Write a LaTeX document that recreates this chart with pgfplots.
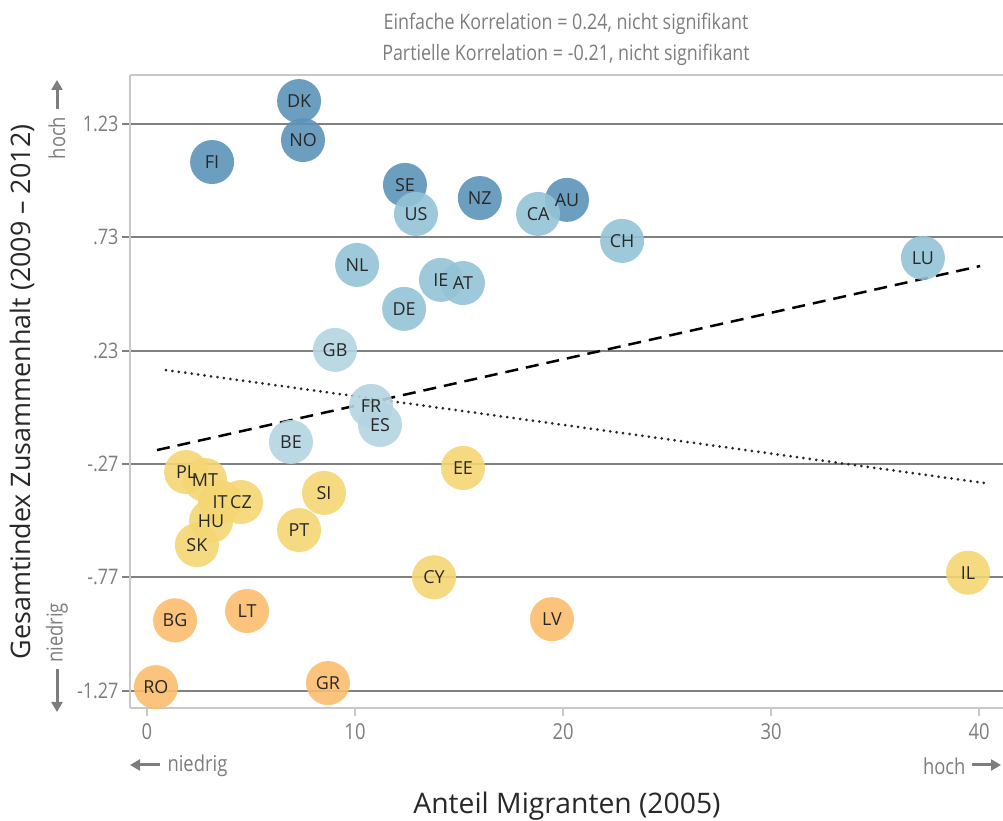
\documentclass[border=0pt]{standalone}
\usepackage{fontspec}
\setmainfont{Open Sans}
\newfontfamily\narrowfont{Open Sans}[FakeStretch=0.84]
\usepackage{pgfplots}
\usepackage{pgfplotstable}
\pgfplotsset{compat=1.18}
\usetikzlibrary{arrows.meta}
\definecolor{dblue}{RGB}{92,148,184}
\definecolor{mblue}{RGB}{148,195,214}
\definecolor{lblue}{RGB}{180,212,226}
\definecolor{cyell}{RGB}{245,214,115}
\definecolor{corange}{RGB}{251,188,110}
\definecolor{gridc}{RGB}{128,128,128}
\definecolor{framec}{RGB}{200,200,200}
\definecolor{txtgray}{RGB}{125,125,125}
\definecolor{lab}{RGB}{40,40,40}

\pgfplotstableread{
x y lab
7.31 1.331 DK
7.50 1.159 NO
3.13 1.062 FI
12.40 0.961 SE
16.00 0.903 NZ
20.19 0.895 AU
}\darkgrp
\pgfplotstableread{
x y lab
12.93 0.833 US
18.80 0.833 CA
22.84 0.714 CH
10.10 0.608 NL
14.13 0.542 IE
15.19 0.528 AT
12.36 0.414 DE
37.30 0.639 LU
}\midgrp
\pgfplotstableread{
x y lab
9.04 0.233 GB
10.77 -0.014 FR
11.20 -0.098 ES
6.92 -0.173 BE
}\lightgrp
\pgfplotstableread{
x y lab
1.88 -0.306 PL
2.79 -0.341 MT
3.08 -0.522 HU
3.51 -0.438 IT
4.52 -0.438 CZ
2.40 -0.628 SK
8.51 -0.398 SI
7.31 -0.562 PT
15.19 -0.288 EE
13.80 -0.770 CY
39.47 -0.750 IL
}\yellowgrp
\pgfplotstableread{
x y lab
1.35 -0.960 BG
4.81 -0.919 LT
19.47 -0.955 LV
0.43 -1.255 RO
8.70 -1.237 GR
}\orangegrp

\begin{document}
\begin{tikzpicture}
\useasboundingbox (0,0) rectangle (1003bp,821bp);
\begin{axis}[
  at={(130bp,113bp)}, anchor=south west,
  scale only axis, width=873bp, height=633bp,
  xmin=-0.817, xmax=41.15, ymin=-1.347, ymax=1.446,
  axis x line*=bottom, axis y line*=left,
  axis line style={framec, line width=1.5bp},
  xtick={0,10,20,30,40}, xticklabels={0,10,20,30,40},
  ytick={-1.27,-0.77,-0.27,0.23,0.73,1.23},
  yticklabels={-1.27,-.77,-.27,.23,.73,1.23},
  tick align=outside, major tick length=8bp,
  x tick style={framec, line width=1.5bp},
  y tick style={gridc, line width=2bp},
  ymajorgrids, major grid style={gridc, line width=2bp},
  /pgf/number format/assume math mode=true,
  x tick label style={font=\narrowfont\fontsize{22}{26}\selectfont, text=txtgray, yshift=-4bp},
  y tick label style={font=\narrowfont\fontsize{21.5}{26}\selectfont, text=txtgray},
  clip=false,
  point meta=explicit symbolic,
  every node near coord/.append style={anchor=center, font=\fontsize{18}{21}\selectfont, text=lab},
  bubble/.style={only marks, mark=*, mark size=22bp,
    mark options={draw=#1, fill=#1, draw opacity=0, fill opacity=0.9}},
  names/.style={draw=none, mark=none, nodes near coords},
]
\addplot[black, line width=2.5bp, dash pattern=on 13bp off 8bp] coordinates {(0.48,-0.209) (40.05,0.603)};
\addplot[black!85, line width=3bp, dash pattern=on 0bp off 6.5bp, line cap=round] coordinates {(0.91,0.144) (40.24,-0.354)};

\addplot[bubble=dblue] table[x=x, y=y] {\darkgrp};
\addplot[bubble=mblue] table[x=x, y=y] {\midgrp};
\addplot[bubble=lblue] table[x=x, y=y] {\lightgrp};
\addplot[bubble=cyell] table[x=x, y=y] {\yellowgrp};
\addplot[bubble=corange] table[x=x, y=y] {\orangegrp};

\addplot[names] table[x=x, y=y, meta=lab] {\darkgrp};
\addplot[names] table[x=x, y=y, meta=lab] {\midgrp};
\addplot[names] table[x=x, y=y, meta=lab] {\lightgrp};
\addplot[names] table[x=x, y=y, meta=lab] {\yellowgrp};
\addplot[names] table[x=x, y=y, meta=lab] {\orangegrp};

\draw[framec, line width=1.5bp] (rel axis cs:0,1) -- (rel axis cs:1,1);
\end{axis}
% titles and axis captions
\node[text=txtgray, font=\narrowfont\fontsize{21.4}{25}\selectfont] at (566bp,797bp) {Einfache Korrelation = 0.24, nicht signifikant};
\node[text=txtgray, font=\narrowfont\fontsize{21.4}{25}\selectfont] at (566bp,766bp) {Partielle Korrelation = -0.21, nicht signifikant};
\node[rotate=90, text=lab, font=\fontsize{27}{32}\selectfont] at (22bp,429bp) {Gesamtindex Zusammenhalt (2009 – 2012)};
\node[text=lab, font=\fontsize{28.4}{34}\selectfont] at (567bp,15bp) {Anteil Migranten (2005)};
% direction hints
\tikzset{hint/.style={txtgray, line width=3bp, -{Triangle[width=11bp,length=10bp]}}}
\draw[hint] (57bp,712bp) -- (57bp,741bp);
\node[rotate=90, text=txtgray, font=\narrowfont\fontsize{22}{26}\selectfont] at (57bp,683bp) {hoch};
\draw[hint] (57bp,152bp) -- (57bp,109bp);
\node[rotate=90, text=txtgray, font=\narrowfont\fontsize{22}{26}\selectfont] at (57bp,188bp) {niedrig};
\draw[hint] (160bp,56bp) -- (130bp,56bp);
\node[anchor=west, text=txtgray, font=\narrowfont\fontsize{22}{26}\selectfont] at (164bp,55bp) {niedrig};
\draw[hint] (972bp,56bp) -- (1001bp,56bp);
\node[anchor=east, text=txtgray, font=\narrowfont\fontsize{22}{26}\selectfont] at (969bp,55bp) {hoch};
\end{tikzpicture}
\end{document}
